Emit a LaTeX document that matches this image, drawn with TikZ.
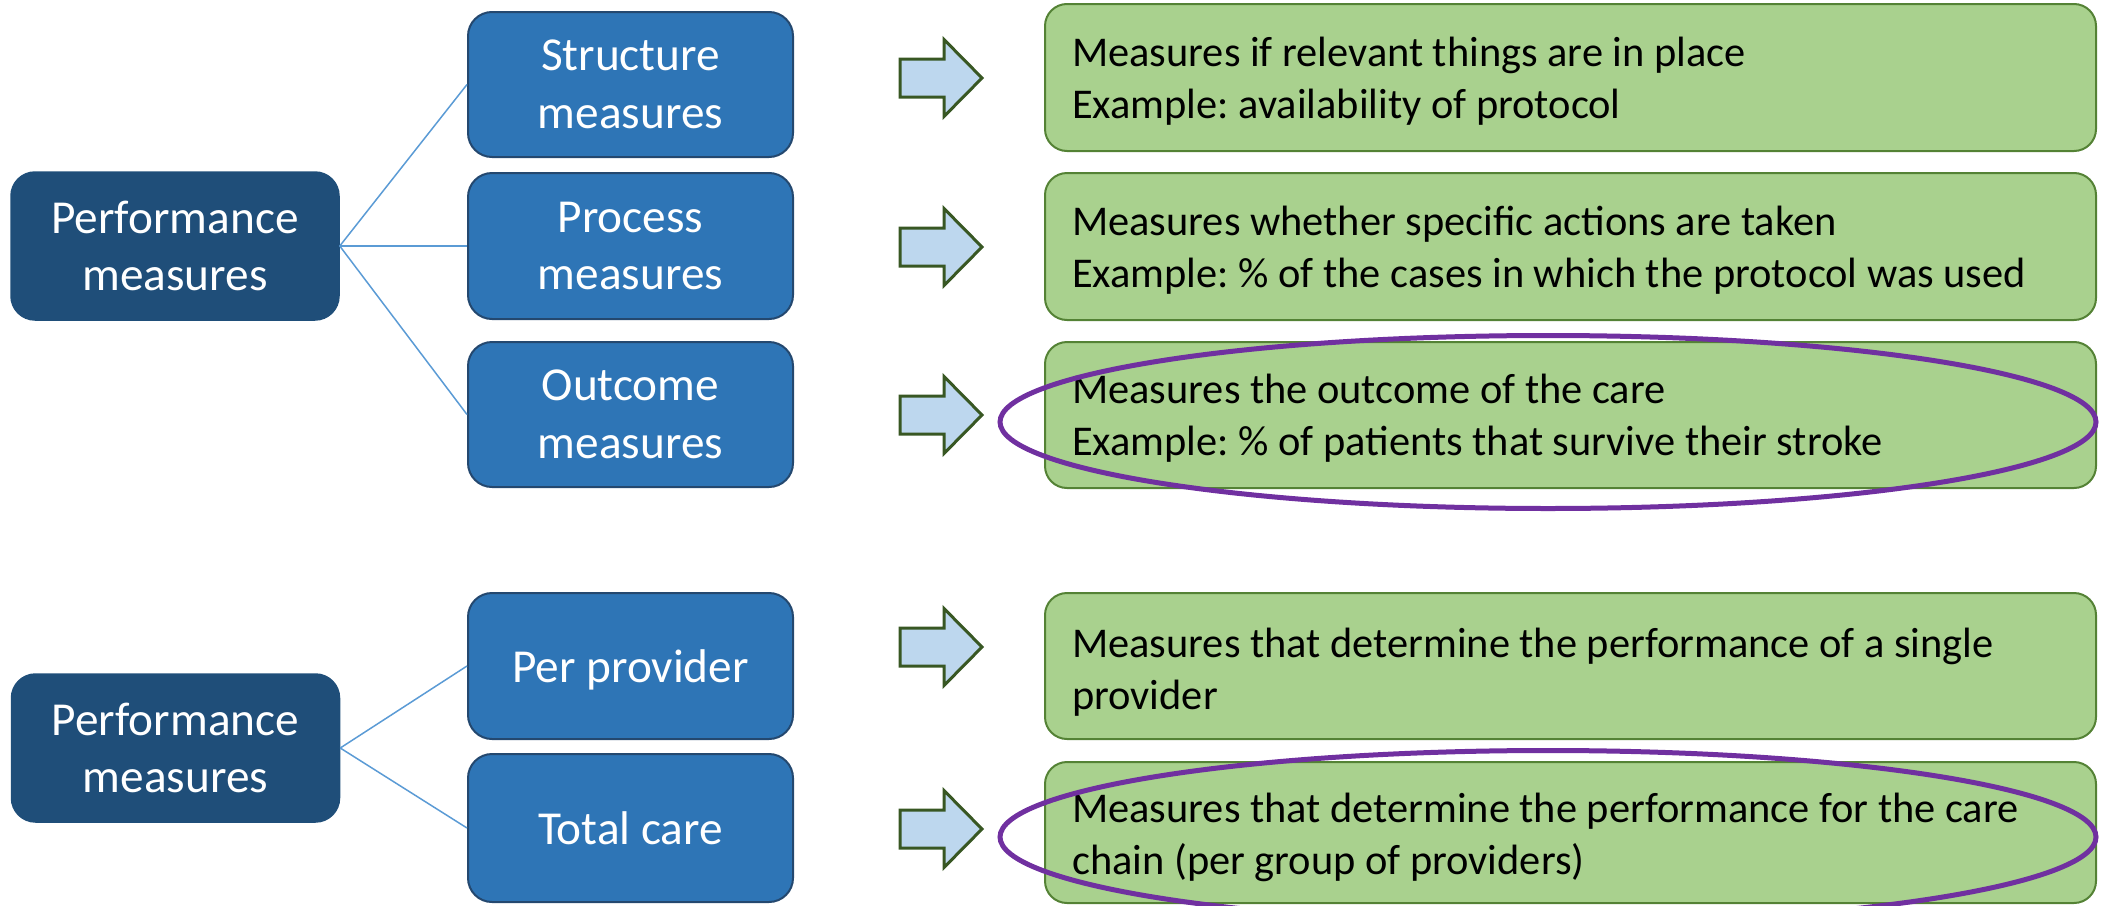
\documentclass[tikz,border=0pt]{standalone}
\usepackage{fontspec}
\setmainfont{Carlito}
\usetikzlibrary{shapes.geometric}
\definecolor{rootblue}{HTML}{1F4E79}
\definecolor{childblue}{HTML}{2E75B6}
\definecolor{childedge}{HTML}{24486F}
\definecolor{lgreen}{HTML}{A9D18E}
\definecolor{dgreen}{HTML}{548235}
\definecolor{arrowfill}{HTML}{BDD7EE}
\definecolor{arrowedge}{HTML}{385723}
\definecolor{connblue}{HTML}{5B9BD5}
\definecolor{ringpurple}{HTML}{7030A0}
\newcommand\bluefont{\fontsize{47.3}{57.7}\selectfont}
\newcommand\greenfont{\fontsize{42.4}{51.7}\selectfont\frenchspacing\spaceskip=0.226em\relax}
\tikzset{
  rootbox/.style={rounded corners=24pt, fill=rootblue, draw=rootblue, line width=1.5pt,
    text=white, font=\bluefont, align=center, inner sep=0pt,
    minimum width=328pt, minimum height=148pt},
  childbox/.style={rounded corners=24pt, fill=childblue, draw=childedge, line width=2pt,
    text=white, font=\bluefont, align=center, inner sep=0pt,
    minimum width=325pt, minimum height=146pt},
  greenbox/.style={rounded corners=22pt, fill=lgreen, draw=dgreen, line width=2pt,
    inner sep=0pt, minimum width=1051pt, minimum height=147pt},
  greentext/.style={text=black, font=\greenfont, align=left, inner sep=0pt, anchor=west},
  conn/.style={draw=connblue, line width=1.5pt},
  blockarrow/.style={fill=arrowfill, draw=arrowedge, line width=3pt, line join=miter},
  ring/.style={draw=ringpurple, line width=5pt, ellipse, inner sep=0pt,
    minimum width=1096pt, minimum height=173pt},
}
\newcommand\drawblockarrow[1]{%
  \draw[blockarrow] (#1) ++(0,-19) -- ++(44,0) -- ++(0,-19.5) -- ++(38,38.5)
    -- ++(-38,38.5) -- ++(0,-19.5) -- ++(-44,0) -- cycle;}
\begin{document}
\begin{tikzpicture}[x=1pt,y=-1pt]
\useasboundingbox (0,0) rectangle (2101,905);
\begin{scope}
\clip (0,0) rectangle (2101,905);
% first group
\node[rootbox] (root1) at (175,246) {Performance\\measures};
\node[childbox, minimum height=145pt] (struct) at (630.5,84.5) {Structure\\measures};
\node[childbox] (proc) at (630.5,246) {Process\\measures};
\node[childbox, minimum height=145pt] (outc) at (630.5,414.5) {Outcome\\measures};
\draw[conn] (root1.east) -- (struct.west);
\draw[conn] (root1.east) -- (proc.west);
\draw[conn] (root1.east) -- (outc.west);
% second group
\node[rootbox] (root2) at (175.5,748) {Performance\\measures};
\node[childbox, text depth=0pt] (perprov) at (630.5,666) {Per provider};
\node[childbox, minimum height=148pt] (total) at (630.5,828) {Total care};
\draw[conn] (root2.east) -- (perprov.west);
\draw[conn] (root2.east) -- (total.west);
% green description boxes
\node[greenbox] (g1) at (1570.5,77.5) {};
\node[greenbox] (g2) at (1570.5,246.5) {};
\node[greenbox, minimum height=146pt] (g3) at (1570.5,415) {};
\node[greenbox, minimum height=146pt] (g4) at (1570.5,666) {};
\node[greenbox, minimum height=141pt] (g5) at (1570.5,832.5) {};
\node[greentext] (t1) at ([xshift=28pt,yshift=-4pt]g1.west) {Measures if relevant things are in place\\Example: availability of protocol};
\node[greentext] (t2) at ([xshift=28pt,yshift=-4pt]g2.west) {Measures whether specific actions are taken\\Example: \% of the cases in which the protocol was used};
\node[greentext] (t3) at ([xshift=28pt,yshift=-3pt]g3.west) {Measures the outcome of the care\\Example: \% of patients that survive their stroke};
\node[greentext] (t4) at ([xshift=28pt,yshift=-6pt]g4.west) {Measures that determine the performance of a single\\provider};
\node[greentext] (t5) at ([xshift=28pt,yshift=-5pt]g5.west) {Measures that determine the performance for the care\\chain (per group of providers)};
% block arrows
\coordinate (a1) at (900,78);
\coordinate (a2) at (900,247);
\coordinate (a3) at (900,415);
\coordinate (a4) at (900,647);
\coordinate (a5) at (900,829);
\drawblockarrow{a1}
\drawblockarrow{a2}
\drawblockarrow{a3}
\drawblockarrow{a4}
\drawblockarrow{a5}
% highlight rings
\node[ring] (ring1) at (1548,422) {};
\node[ring] (ring2) at (1548,837) {};
\end{scope}
\end{tikzpicture}
\end{document}
